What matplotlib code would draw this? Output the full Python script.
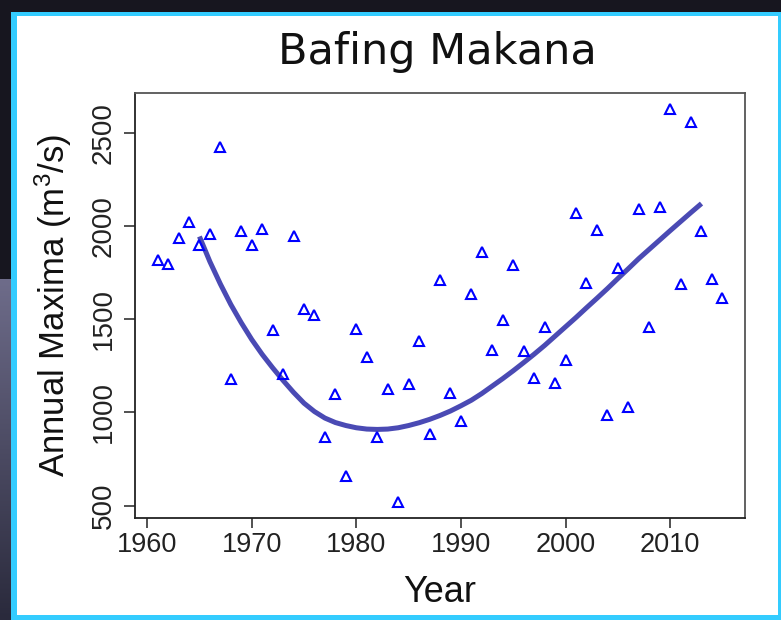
import numpy as np
import matplotlib.pyplot as plt
from matplotlib.patches import Rectangle
from matplotlib.colors import LinearSegmentedColormap

plt.rcParams['font.family'] = ['Liberation Sans', 'DejaVu Sans']
plt.rcParams['mathtext.fontset'] = 'custom'
plt.rcParams['mathtext.rm'] = 'Liberation Sans'
plt.rcParams['mathtext.it'] = 'Liberation Sans:italic'

# annual maxima, one value per year
years = list(range(1961, 2016))
peaks = [1818, 1800, 1935, 2024, 1899, 1956, 2425, 1182, 1974, 1899,
         1986, 1441, 1209, 1947, 1554, 1524, 870, 1098, 657, 1450,
         1298, 870, 1125, 518, 1155, 1384, 887, 1711, 1107, 957,
         1638, 1863, 1334, 1495, 1790, 1331, 1184, 1460, 1157, 1282,
         2069, 1697, 1981, 989, 1774, 1032, 2093, 1460, 2104, 2631,
         1688, 2560, 1974, 1718, 1613]

# fitted trend (location) over the record
trend_years = list(range(1965, 2014))
trend_vals = [1945, 1810, 1690, 1580, 1482, 1392, 1312, 1240, 1172, 1108,
              1050, 1005, 970, 946, 930, 918, 911, 909, 911, 918,
              930, 945, 963, 984, 1008, 1036, 1066, 1102, 1142, 1182,
              1224, 1268, 1313, 1360, 1410, 1460, 1510, 1562, 1613, 1665,
              1719, 1772, 1826, 1876, 1926, 1976, 2025, 2074, 2122]

xticks = [1960, 1970, 1980, 1990, 2000, 2010]
yticks = [500, 1000, 1500, 2000, 2500]

fig = plt.figure(figsize=(7.81, 6.20), dpi=100)
fig.patch.set_facecolor('#17161f')

# screen frame around the plot window
bg = fig.add_axes([0, 0, 1, 1], zorder=-5)
bg.axis('off')
grad = np.linspace(0, 1, 200).reshape(-1, 1)
bg.imshow(grad, extent=[0, 0.016, 0, 0.55], aspect='auto',
          cmap=LinearSegmentedColormap.from_list('side', ['#6e6c8a', '#2a2a3c']),
          zorder=0)
bg.set_xlim(0, 1)
bg.set_ylim(0, 1)
bg.add_patch(Rectangle((11 / 781, 0), 1 - 11 / 781, 1 - 12 / 620,
                       facecolor='#33ccff', edgecolor='none', zorder=1))
bg.add_patch(Rectangle((17 / 781, 5 / 620), (778 - 17) / 781, (615 - 16) / 620,
                       facecolor='white', edgecolor='none', zorder=2))

ax = fig.add_axes([135 / 781, 1 - 518 / 620, 610 / 781, 425 / 620])
ax.set_facecolor('white')

ax.plot(years, peaks, linestyle='none', marker='^', markersize=7,
        markerfacecolor='none', markeredgecolor='#0000ff',
        markeredgewidth=1.5, zorder=3)
ax.plot(trend_years, trend_vals, color='#4a4ab4', linewidth=3.6,
        solid_capstyle='butt', solid_joinstyle='round', zorder=2)

# R-style 4% padding on both axes
xr = max(years) - min(years)
yr = max(peaks) - min(peaks)
ax.set_xlim(min(years) - 0.04 * xr, max(years) + 0.04 * xr)
ax.set_ylim(min(peaks) - 0.04 * yr, max(peaks) + 0.04 * yr)

ax.set_xticks(xticks)
ax.set_yticks(yticks)
ax.tick_params(axis='x', direction='out', length=7, width=1.1,
               labelsize=19.5, pad=3, colors='#222222')
ax.tick_params(axis='y', direction='out', length=8, width=1.1,
               labelsize=20, pad=5, colors='#222222')
for lab in ax.get_yticklabels():
    lab.set_rotation(90)
    lab.set_va('center')

for s in ['left', 'bottom']:
    ax.spines[s].set_color('#222222')
    ax.spines[s].set_linewidth(1.3)
for s in ['top', 'right']:
    ax.spines[s].set_color('#555555')
    ax.spines[s].set_linewidth(1.3)

ax.set_xlabel('Year', fontsize=26, labelpad=12, color='#111111')
ax.set_ylabel('Annual Maxima (m$^3$/s)', fontsize=25, labelpad=12,
              color='#111111')
fig.text(437 / 781, 1 - 52 / 620, 'Bafing Makana', ha='center', va='center',
         fontsize=31, family='DejaVu Sans', color='#111111')

fig.savefig('out.png', dpi=100, facecolor=fig.get_facecolor())
